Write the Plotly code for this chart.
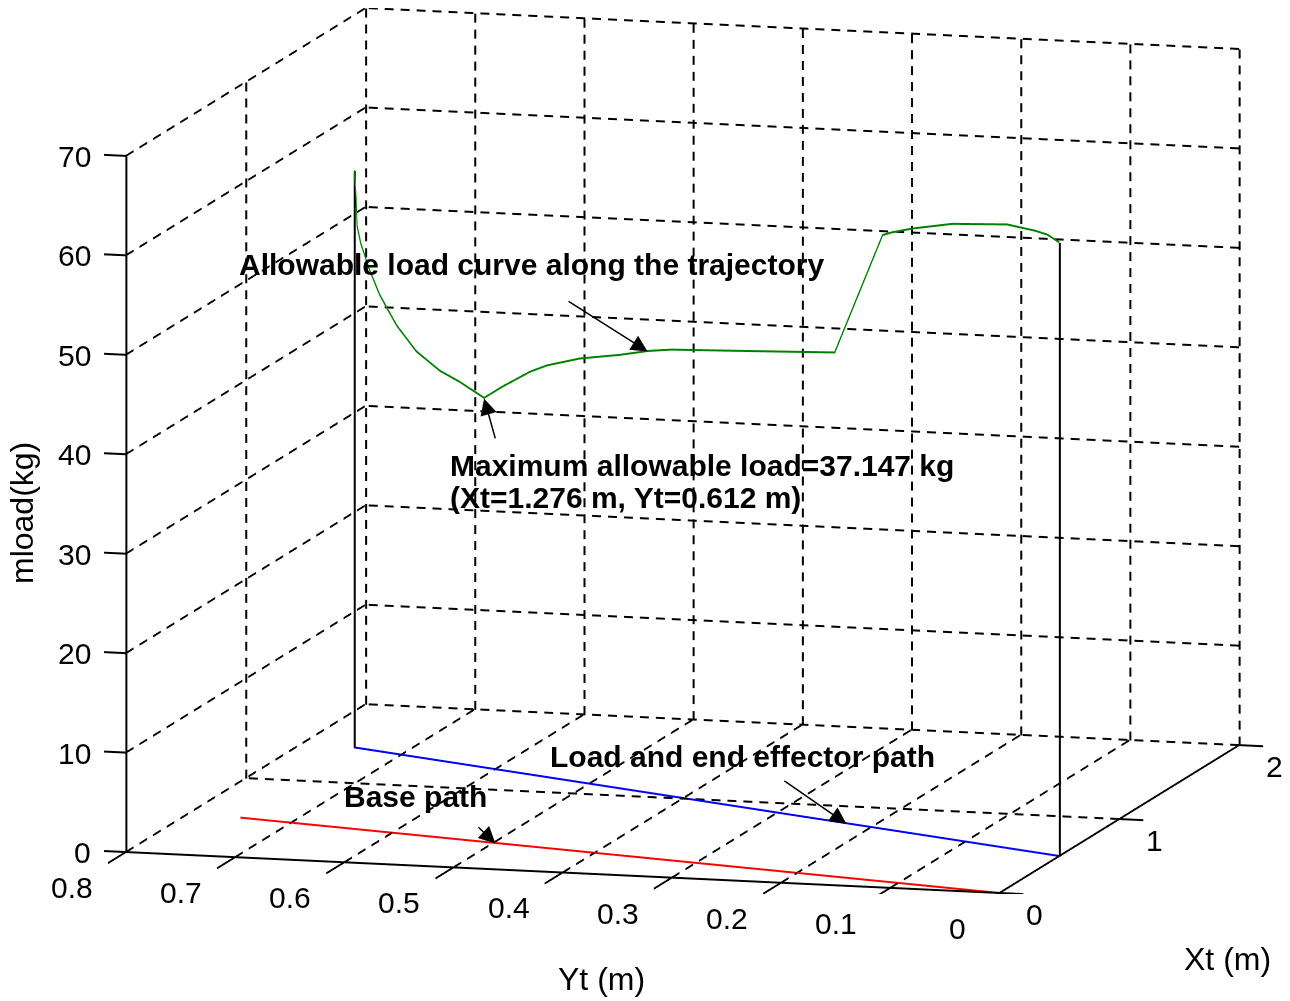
import math
import plotly.graph_objects as go

# ---------------- data ----------------
# end-effector (load) path on the floor
ee_xt = [1.45, 0.5]
ee_yt = [0.75, 0.0]
# base path on the floor
base_xt = [0.5, 0.0]
base_yt = [0.75, 0.0]
# allowable load curve along the trajectory
load_yt = [0.750, 0.748, 0.747, 0.743, 0.734, 0.723, 0.705, 0.684, 0.659, 0.638,
           0.612, 0.592, 0.563, 0.545, 0.510, 0.467, 0.438, 0.413, 0.328, 0.239,
           0.188, 0.1785, 0.157, 0.114, 0.0555, 0.040, 0.0255, 0.0128, 0.0]
load_xt = [1.450, 1.447, 1.446, 1.440, 1.430, 1.416, 1.393, 1.366, 1.335, 1.308,
           1.276, 1.250, 1.213, 1.190, 1.146, 1.091, 1.055, 1.024, 0.915, 0.803,
           0.738, 0.726, 0.699, 0.645, 0.570, 0.550, 0.532, 0.516, 0.500]
load_z = [58.0, 55.3, 52.5, 50.8, 48.3, 45.9, 43.1, 40.8, 39.2, 38.4,
          37.147, 38.6, 40.5, 41.4, 42.6, 43.6, 44.4, 44.9, 46.0, 47.15,
          59.7, 60.1, 60.8, 61.9, 62.7, 62.6, 62.5, 62.3, 61.7]

z_ticks = [0, 10, 20, 30, 40, 50, 60, 70]
yt_ticks = [0.8, 0.7, 0.6, 0.5, 0.4, 0.3, 0.2, 0.1, 0.0]
yt_labels = ["0.8", "0.7", "0.6", "0.5", "0.4", "0.3", "0.2", "0.1", "0"]
xt_ticks = [0, 1, 2]
xt_labels = ["0", "1", "2"]

XMIN, XMAX = 0.0, 2.0
YMIN, YMAX = 0.0, 0.8
ZMIN, ZMAX = 0.0, 70.0

FONT = "Liberation Sans, Arial, sans-serif"
fig = go.Figure()

# approximate on-screen pixels per data unit along each axis (for dash lengths
# and for doubling lines to get a 2px stroke)
PX = (120.0, -74.0)      # per Xt unit
PY = (-1094.0, 51.0)     # per Yt unit
PZ = (0.0, -9.957)       # per mload unit
DASH, GAP = 9.0, 7.0


def add_poly(xs, ys, zs, color="black", vertical=False):
    fig.add_trace(go.Scatter3d(x=xs, y=ys, z=zs, mode="lines",
                               line=dict(color=color, width=2),
                               hoverinfo="skip", showlegend=False))
    if vertical:
        sx = [None if v is None else v - 1.0 / 1094.0 for v in ys]
        fig.add_trace(go.Scatter3d(x=xs, y=sx, z=zs, mode="lines",
                                   line=dict(color=color, width=2),
                                   hoverinfo="skip", showlegend=False))
    else:
        sz = [None if v is None else v + 0.1 for v in zs]
        fig.add_trace(go.Scatter3d(x=xs, y=ys, z=sz, mode="lines",
                                   line=dict(color=color, width=2),
                                   hoverinfo="skip", showlegend=False))


def add_lines(segs, color="black", dashed=False):
    hx, hy, hz = [], [], []   # non-vertical
    vx, vy, vz = [], [], []   # vertical
    for (p, q) in segs:
        dx, dy, dz = q[0] - p[0], q[1] - p[1], q[2] - p[2]
        is_vert = (dx == 0 and dy == 0)
        X, Y, Z = (vx, vy, vz) if is_vert else (hx, hy, hz)
        if not dashed:
            X += [p[0], q[0], None]
            Y += [p[1], q[1], None]
            Z += [p[2], q[2], None]
            continue
        sx = dx * PX[0] + dy * PY[0] + dz * PZ[0]
        sy = dx * PX[1] + dy * PY[1] + dz * PZ[1]
        L = math.hypot(sx, sy)
        t = 0.0
        while t < L:
            a = t / L
            b = min(t + DASH, L) / L
            X += [p[0] + a * dx, p[0] + b * dx, None]
            Y += [p[1] + a * dy, p[1] + b * dy, None]
            Z += [p[2] + a * dz, p[2] + b * dz, None]
            t += DASH + GAP
    if hx:
        add_poly(hx, hy, hz, color, vertical=False)
    if vx:
        add_poly(vx, vy, vz, color, vertical=True)


# dashed grid lines
grid = []
for yv in yt_ticks:
    if yv != YMIN:
        grid.append(((XMIN, yv, ZMIN), (XMAX, yv, ZMIN)))
for xv in xt_ticks:
    if xv != XMIN:
        grid.append(((xv, YMIN, ZMIN), (xv, YMAX, ZMIN)))
for yv in yt_ticks:
    grid.append(((XMAX, yv, ZMIN), (XMAX, yv, ZMAX)))
for zv in z_ticks:
    grid.append(((XMAX, YMIN, zv), (XMAX, YMAX, zv)))
for xv in xt_ticks:
    if xv != XMIN:
        grid.append(((xv, YMAX, ZMIN), (xv, YMAX, ZMAX)))
for zv in z_ticks:
    grid.append(((XMIN, YMAX, zv), (XMAX, YMAX, zv)))
add_lines(grid, dashed=True)

# solid axis lines and ticks
axes = [((XMIN, YMAX, ZMIN), (XMIN, YMAX, ZMAX)),
        ((XMIN, YMIN, ZMIN), (XMIN, YMAX, ZMIN)),
        ((XMIN, YMIN, ZMIN), (XMAX, YMIN, ZMIN))]
for zv in z_ticks:
    axes.append(((XMIN, YMAX, zv), (XMIN, YMAX + 0.02, zv)))
for yv in yt_ticks:
    axes.append(((XMIN, yv, ZMIN), (XMIN - 0.15, yv, ZMIN)))
for xv in xt_ticks:
    axes.append(((xv, YMIN, ZMIN), (xv, YMIN - 0.022, ZMIN)))
add_lines(axes)

# paths
add_poly(base_xt, base_yt, [0, 0], color="#ff0000")
add_poly(ee_xt, ee_yt, [0, 0], color="#0000ff")
# stems from the path up to the curve
add_lines([((load_xt[0], load_yt[0], 0), (load_xt[0], load_yt[0], load_z[0])),
           ((load_xt[-1], load_yt[-1], 0), (load_xt[-1], load_yt[-1], load_z[-1]))])
add_poly(load_xt, load_yt, load_z, color="#008000")

# ---------------- annotations ----------------
anns = []
tfont = dict(family=FONT, size=30, color="black")
for zv in z_ticks:
    anns.append(dict(x=XMIN, y=YMAX, z=zv, text=str(zv), showarrow=False,
                     xanchor="right", yanchor="middle", xshift=-33, font=tfont))
for yv, lab in zip(yt_ticks, yt_labels):
    anns.append(dict(x=XMIN, y=yv, z=ZMIN, text=lab, showarrow=False,
                     xanchor="right", yanchor="middle", xshift=-31, yshift=-35, font=tfont))
for xv, lab in zip(xt_ticks, xt_labels):
    anns.append(dict(x=xv, y=YMIN, z=ZMIN, text=lab, showarrow=False,
                     xanchor="left", yanchor="middle", xshift=25, yshift=-21, font=tfont))

bfont = dict(family=FONT, size=30, color="black")
arrow = dict(showarrow=True, arrowhead=2, arrowsize=2.2, arrowwidth=1.5, arrowcolor="black")
i_min = 10
i_allow = 16
anns.append(dict(x=load_xt[i_allow], y=load_yt[i_allow], z=load_z[i_allow],
                 text="<b>Allowable load curve along the trajectory</b>", showarrow=False,
                 xanchor="center", yanchor="middle", xshift=-116, yshift=87, font=bfont))
anns.append(dict(x=load_xt[i_allow], y=load_yt[i_allow], z=load_z[i_allow], text=" ",
                 ax=-82, ay=-52, **arrow))
anns.append(dict(x=load_xt[i_min], y=load_yt[i_min], z=load_z[i_min],
                 text="<b>Maximum allowable load=37.147 kg</b>",
                 showarrow=False, xanchor="left", yanchor="middle",
                 xshift=-36, yshift=-67, font=bfont))
anns.append(dict(x=load_xt[i_min], y=load_yt[i_min], z=load_z[i_min],
                 text="<b>(Xt=1.276 m, Yt=0.612 m)</b>",
                 showarrow=False, xanchor="left", yanchor="middle",
                 xshift=-36, yshift=-99, font=bfont))
anns.append(dict(x=load_xt[i_min], y=load_yt[i_min], z=load_z[i_min], text=" ",
                 ax=14, ay=50, **arrow))
anns.append(dict(x=0.7866, y=0.2265, z=0, text="<b>Load and end effector path</b>",
                 showarrow=False, xanchor="center", yanchor="middle",
                 xshift=-104, yshift=67, font=bfont))
anns.append(dict(x=0.7866, y=0.2265, z=0, text=" ", ax=-65, ay=-45, **arrow))
anns.append(dict(x=0.332, y=0.498, z=0, text="<b>Base path</b>",
                 showarrow=False, xanchor="center", yanchor="middle",
                 xshift=-80, yshift=47, font=bfont))
anns.append(dict(x=0.332, y=0.498, z=0, text=" ", ax=-20, ay=-19, **arrow))

# ---------------- layout ----------------
XR = [-0.2, 2.2]
YR = [-0.05, 0.85]
ZR = [-2, 72]
ar = dict(x=2.4437, y=2.3010, z=1.6858)
D = 1.5
d = (-0.9499, -0.2618, 0.1700)
eye = dict(x=D * d[0], y=D * d[1], z=D * d[2])

hidden = dict(visible=False, showspikes=False)
fig.update_layout(
    width=1290, height=1001,
    margin=dict(l=0, r=0, t=0, b=0),
    paper_bgcolor="white",
    showlegend=False,
    hovermode=False,
    scene=dict(
        domain=dict(x=[0.05192, 0.99382], y=[0.1149, 1.0]),
        xaxis=dict(range=XR, **hidden),
        yaxis=dict(range=YR, **hidden),
        zaxis=dict(range=ZR, **hidden),
        aspectmode="manual",
        aspectratio=ar,
        camera=dict(eye=eye, center=dict(x=0, y=0, z=0), up=dict(x=0, y=0, z=1),
                    projection=dict(type="orthographic")),
        bgcolor="white",
        annotations=anns,
    ),
    annotations=[
        dict(xref="paper", yref="paper", x=14 / 1290, y=1 - 505 / 1001, text="mload(kg)",
             textangle=-90, showarrow=False, font=dict(family=FONT, size=32, color="black"),
             xanchor="center", yanchor="middle"),
        dict(xref="paper", yref="paper", x=593 / 1290, y=1 - 971 / 1001, text="Yt (m)",
             showarrow=False, font=dict(family=FONT, size=32, color="black"),
             xanchor="center", yanchor="middle"),
        dict(xref="paper", yref="paper", x=1219 / 1290, y=1 - 951 / 1001, text="Xt (m)",
             showarrow=False, font=dict(family=FONT, size=32, color="black"),
             xanchor="center", yanchor="middle"),
    ],
)

fig.write_html("out.html")
